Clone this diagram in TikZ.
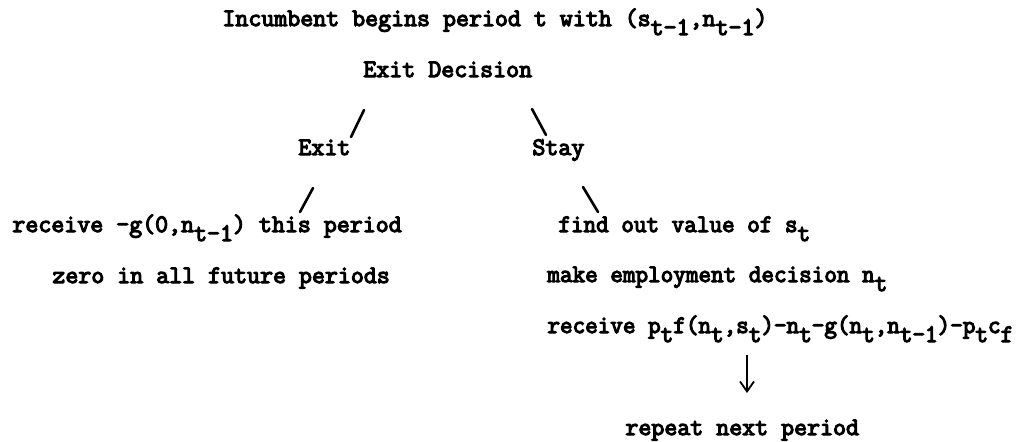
\documentclass[tikz,border=0pt]{standalone}
\usepackage{fontspec}
\newfontfamily\typewr{Latin Modern Mono}[FakeBold=4.5]
\newfontfamily\typewrn{Latin Modern Mono}[FakeBold=4.5, FakeStretch=0.97]
\usetikzlibrary{arrows.meta}
\newcommand{\lo}[1]{\raisebox{-4.5pt}{#1}}

\begin{document}
\begin{tikzpicture}[x=0.5pt, y=-0.5pt,
  txt/.style={anchor=base west, inner sep=0pt, font=\typewr\fontsize{12.6pt}{15pt}\selectfont},
  txtn/.style={txt, font=\typewrn\fontsize{12.6pt}{15pt}\selectfont},
  stroke/.style={line width=1.3pt, line cap=round},
  flow/.style={line width=0.9pt, -{Straight Barb[length=5pt,width=7pt]}}]
\useasboundingbox (0,0) rectangle (1026,441);

% decision at the start of the period
\node[txt] (top) at (222,26) {Incumbent begins period t with (s\lo{t-1},n\lo{t-1})};
\node[txt] (dec) at (363,77) {Exit Decision};
\node[txt] (exit) at (298,155) {Exit};
\node[txt] (stay) at (532,155) {Stay};

% exit branch
\node[txt] (recx) at (12,232) {receive -g(0,n\lo{t-1}) this period};
\node[txt] (zero) at (52,283) {zero in all future periods};

% stay branch
\node[txtn] (find) at (558,232) {find out value of s\lo{t}};
\node[txtn] (emp) at (547,282) {make employment decision n\lo{t}};
\node[txtn] (recs) at (547,333) {receive p\lo{t}f(n\lo{t},s\lo{t})-n\lo{t}-g(n\lo{t},n\lo{t-1})-p\lo{t}c\lo{f}};
\node[txt] (rep) at (625,435) {repeat next period};

% branch strokes
\coordinate (exA) at (364,110);
\coordinate (exB) at (351,137);
\coordinate (stA) at (532,109);
\coordinate (stB) at (546,135);
\coordinate (exC) at (313,188);
\coordinate (exD) at (300,212);
\coordinate (stC) at (583,187);
\coordinate (stD) at (598,212);
\draw[stroke] (exA) -- (exB);
\draw[stroke] (stA) -- (stB);
\draw[stroke] (exC) -- (exD);
\draw[stroke] (stC) -- (stD);

% loop back
\coordinate (arrA) at (747,355);
\coordinate (arrB) at (747,393);
\draw[flow] (arrA) -- (arrB);
\end{tikzpicture}
\end{document}
